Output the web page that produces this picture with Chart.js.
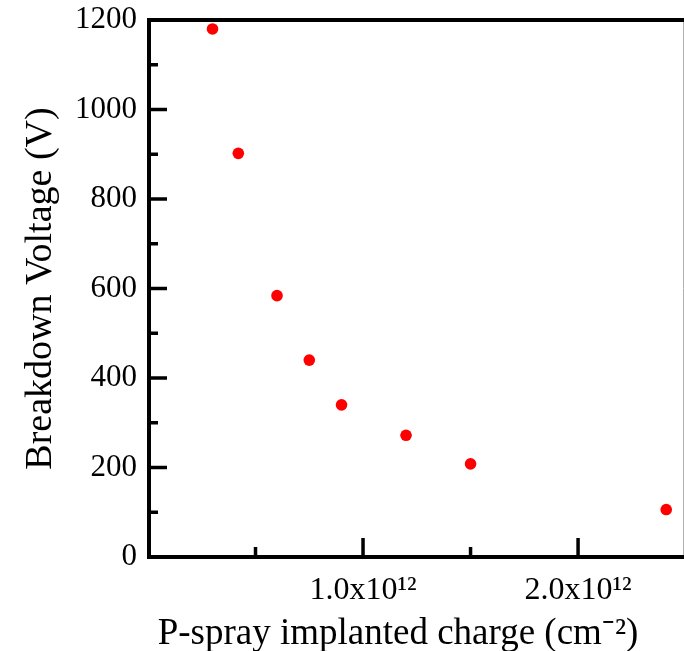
<!DOCTYPE html>
<html>
<head>
<meta charset="utf-8">
<script src="https://cdn.jsdelivr.net/npm/chart.js@4/dist/chart.umd.min.js"></script>
<style>
html,body{margin:0;padding:0;background:#fff;}
canvas{display:block;}
</style>
</head>
<body>
<canvas id="c" width="684" height="651"></canvas>
<script>
// ---- data ----
const implantedCharge = [0.30e12, 0.42e12, 0.60e12, 0.75e12, 0.90e12, 1.20e12, 1.50e12, 2.41e12];
const breakdownVoltage = [1180, 902, 584, 440, 340, 272, 208, 106];
const xTickValues = [1.0e12, 2.0e12];
const xTickLabels = ['1.0x10\u00B9\u00B2', '2.0x10\u00B9\u00B2'];
const xMinorTickValues = [0.5e12, 1.5e12];
const yTickValues = [0, 200, 400, 600, 800, 1000, 1200];
const yMinorTickValues = [100, 300, 500, 700, 900, 1100];
const xTitle = 'P-spray implanted charge (cm\u207B\u00B2)';
const yTitle = 'Breakdown Voltage (V)';

const serif = "'Liberation Serif', 'Times New Roman', serif";

const frameAndTicks = {
  id: 'frameAndTicks',
  afterDatasetsDraw(chart) {
    const ctx = chart.ctx;
    const a = chart.chartArea;
    const xs = chart.scales.x, ys = chart.scales.y;
    ctx.save();
    ctx.strokeStyle = '#000';
    ctx.lineCap = 'butt';
    ctx.lineWidth = 3.5;
    const yTick = (v, len) => {
      const p = ys.getPixelForValue(v);
      ctx.beginPath(); ctx.moveTo(a.left, p); ctx.lineTo(a.left + len, p); ctx.stroke();
    };
    const xTick = (v, len) => {
      const p = xs.getPixelForValue(v);
      ctx.beginPath(); ctx.moveTo(p, a.bottom); ctx.lineTo(p, a.bottom - len); ctx.stroke();
    };
    yTickValues.forEach(v => yTick(v, 19));
    yMinorTickValues.forEach(v => yTick(v, 10));
    xTickValues.forEach(v => xTick(v, 19));
    xMinorTickValues.forEach(v => xTick(v, 10));
    ctx.lineWidth = 4;
    ctx.beginPath();
    ctx.moveTo(a.right + 2, a.top);
    ctx.lineTo(a.left + 1, a.top);
    ctx.lineTo(a.left + 1, a.bottom);
    ctx.lineTo(a.right + 2, a.bottom);
    ctx.stroke();
    ctx.lineWidth = 1;
    ctx.strokeStyle = '#b0b0b0';
    ctx.beginPath();
    ctx.moveTo(a.right + 0.5, a.top + 2);
    ctx.lineTo(a.right + 0.5, a.bottom - 2);
    ctx.stroke();
    // x-axis title, centred on the figure as in the reference
    ctx.fillStyle = '#000';
    ctx.font = '37px ' + serif;
    ctx.textAlign = 'center';
    ctx.textBaseline = 'alphabetic';
    ctx.fillText(xTitle, 398, 644);
    ctx.restore();
  }
};

new Chart(document.getElementById('c'), {
  type: 'scatter',
  data: {
    datasets: [{
      data: implantedCharge.map((x, i) => ({ x: x, y: breakdownVoltage[i] })),
      backgroundColor: '#ff0000',
      borderWidth: 0,
      pointRadius: 5.8,
      pointHoverRadius: 5.8
    }]
  },
  options: {
    responsive: false,
    animation: false,
    devicePixelRatio: 1,
    layout: { autoPadding: false, padding: { top: 20, right: 1, left: 0, bottom: 0 } },
    plugins: { legend: { display: false }, tooltip: { enabled: false } },
    scales: {
      x: {
        type: 'linear',
        min: 0,
        max: 2.488e12,
        grid: { display: false },
        border: { display: false },
        afterBuildTicks: (s) => { s.ticks = xTickValues.map(v => ({ value: v })); },
        afterFit: (s) => { s.height = 94; s.paddingRight = 0; s.paddingLeft = 0; },
        ticks: {
          autoSkip: false,
          maxRotation: 0,
          padding: 10,
          color: '#000',
          font: { family: serif, size: 32, lineHeight: 1 },
          callback: (v) => { const i = xTickValues.indexOf(v); return i >= 0 ? xTickLabels[i] : ''; }
        },
        title: { display: false }
      },
      y: {
        type: 'linear',
        min: 0,
        max: 1200,
        grid: { display: false },
        border: { display: false },
        afterBuildTicks: (s) => { s.ticks = yTickValues.map(v => ({ value: v })); },
        afterFit: (s) => { s.width = 148; s.paddingTop = 0; s.paddingBottom = 0; },
        ticks: {
          padding: 3,
          color: '#000',
          font: { family: serif, size: 31, lineHeight: 1 },
          callback: (v) => String(v)
        },
        title: {
          display: true,
          text: yTitle,
          color: '#000',
          font: { family: serif, size: 38, lineHeight: 1 },
          padding: { top: 22, bottom: 0 }
        }
      }
    }
  },
  plugins: [frameAndTicks]
});
</script>
</body>
</html>
